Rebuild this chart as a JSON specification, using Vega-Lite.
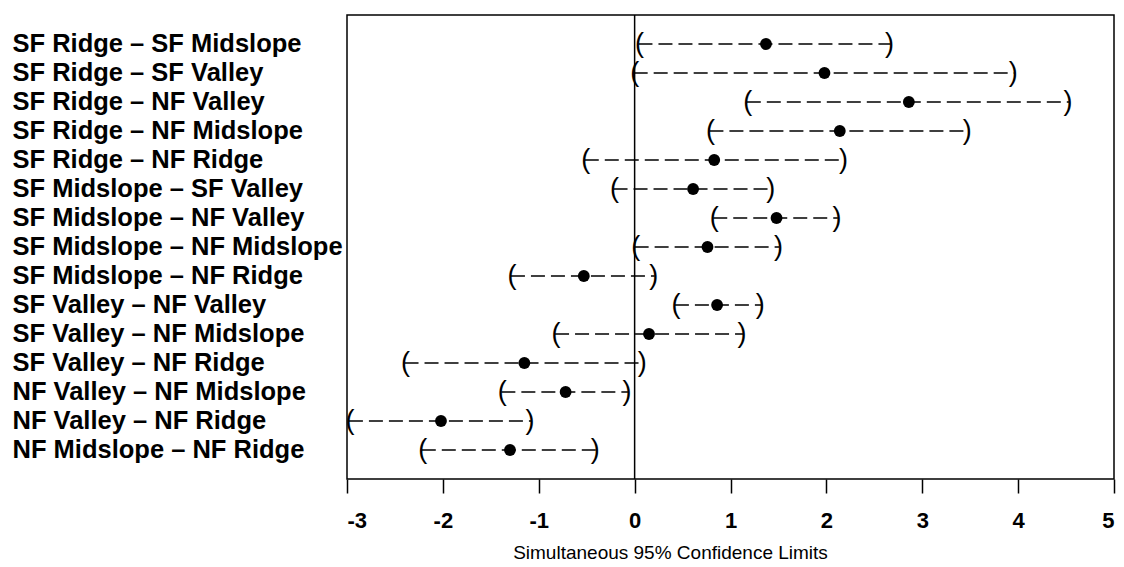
{
  "$schema": "https://vega.github.io/schema/vega-lite/v6.json",
  "width": 767,
  "height": 464,
  "autosize": "none",
  "padding": {"left": 347, "top": 15, "right": 10, "bottom": 88},
  "background": "white",
  "config": {
    "view": {"stroke": "black", "strokeWidth": 1.5},
    "font": "Liberation Sans"
  },
  "data": {
    "values": [
      {"pair": "SF Ridge – SF Midslope", "lower": 0.04, "est": 1.37, "upper": 2.67},
      {"pair": "SF Ridge – SF Valley", "lower": -0.01, "est": 1.98, "upper": 3.96},
      {"pair": "SF Ridge – NF Valley", "lower": 1.17, "est": 2.86, "upper": 4.53},
      {"pair": "SF Ridge – NF Midslope", "lower": 0.78, "est": 2.14, "upper": 3.48},
      {"pair": "SF Ridge – NF Ridge", "lower": -0.52, "est": 0.83, "upper": 2.19},
      {"pair": "SF Midslope – SF Valley", "lower": -0.22, "est": 0.61, "upper": 1.43},
      {"pair": "SF Midslope – NF Valley", "lower": 0.82, "est": 1.48, "upper": 2.12},
      {"pair": "SF Midslope – NF Midslope", "lower": 0.0, "est": 0.76, "upper": 1.51},
      {"pair": "SF Midslope – NF Ridge", "lower": -1.29, "est": -0.53, "upper": 0.21},
      {"pair": "SF Valley – NF Valley", "lower": 0.42, "est": 0.86, "upper": 1.32},
      {"pair": "SF Valley – NF Midslope", "lower": -0.83, "est": 0.15, "upper": 1.13},
      {"pair": "SF Valley – NF Ridge", "lower": -2.4, "est": -1.15, "upper": 0.09},
      {"pair": "NF Valley – NF Midslope", "lower": -1.39, "est": -0.72, "upper": -0.07},
      {"pair": "NF Valley – NF Ridge", "lower": -2.98, "est": -2.02, "upper": -1.08},
      {"pair": "NF Midslope – NF Ridge", "lower": -2.22, "est": -1.3, "upper": -0.4}
    ]
  },
  "encoding": {
    "y": {
      "field": "pair",
      "type": "nominal",
      "sort": null,
      "scale": {"paddingInner": 0, "paddingOuter": 0.5},
      "axis": {
        "title": null,
        "ticks": false,
        "tickSize": 0,
        "domain": false,
        "labelAlign": "left",
        "labelPadding": 335,
        "labelFontSize": 25.5,
        "labelFontWeight": "bold",
        "labelColor": "black",
        "labelFont": "Liberation Sans",
        "labelLimit": 400
      }
    }
  },
  "layer": [
    {
      "data": {"values": [{"zero": 0}]},
      "mark": {"type": "rule", "color": "black", "strokeWidth": 1.5},
      "encoding": {
        "x": {"field": "zero", "type": "quantitative", "scale": {"domain": [-3, 5], "nice": false, "zero": false}},
        "y": null
      }
    },
    {
      "mark": {"type": "rule", "color": "black", "strokeWidth": 1.5, "strokeDash": [14, 6]},
      "encoding": {
        "x": {
          "field": "lower",
          "type": "quantitative",
          "scale": {"domain": [-3, 5], "nice": false, "zero": false},
          "axis": {
            "title": "Simultaneous 95% Confidence Limits",
            "values": [-3, -2, -1, 0, 1, 2, 3, 4, 5],
            "labelExpr": "'' + datum.value",
            "grid": false,
            "domain": false,
            "tickColor": "black",
            "tickSize": 14,
            "tickWidth": 1.5,
            "labelFontSize": 22,
            "labelFontWeight": "bold",
            "labelColor": "black",
            "labelPadding": 17,
            "labelFont": "Liberation Sans",
            "titleFont": "Liberation Sans",
            "titleFontSize": 19,
            "titleFontWeight": "normal",
            "titleColor": "black",
            "titlePadding": 12,
            "titleX": 323,
            "titleAnchor": "start",
            "titleAlign": "center"
          }
        },
        "x2": {"field": "upper"}
      }
    },
    {
      "mark": {"type": "text", "text": "(", "fontSize": 27, "fontWeight": "normal", "font": "Liberation Sans", "color": "black", "align": "center", "baseline": "middle", "dx": 1},
      "encoding": {"x": {"field": "lower", "type": "quantitative"}}
    },
    {
      "mark": {"type": "text", "text": ")", "fontSize": 27, "fontWeight": "normal", "font": "Liberation Sans", "color": "black", "align": "center", "baseline": "middle", "dx": -1},
      "encoding": {"x": {"field": "upper", "type": "quantitative"}}
    },
    {
      "mark": {"type": "point", "filled": true, "color": "black", "opacity": 1, "size": 140},
      "encoding": {"x": {"field": "est", "type": "quantitative"}}
    }
  ]
}
